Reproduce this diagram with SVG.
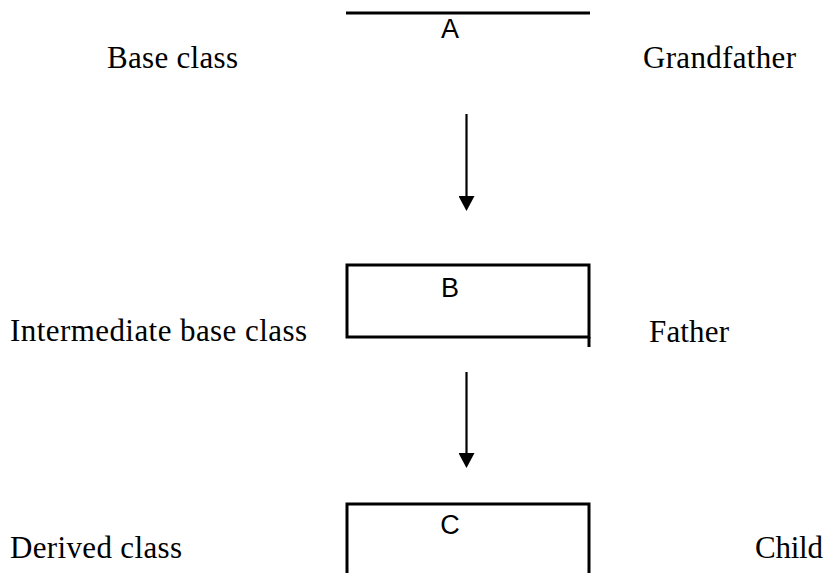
<svg xmlns="http://www.w3.org/2000/svg" width="826" height="573" viewBox="0 0 826 573">
<style>
.lbl{font-family:"Liberation Serif","Times New Roman",serif;font-size:31px;fill:#000}
.cls{font-family:"Liberation Sans",Arial,sans-serif;font-size:27px;fill:#000;text-anchor:middle}
.box{fill:none;stroke:#000;stroke-width:3}
.conn{stroke:#000;stroke-width:2.2;fill:none}
</style>
<defs>
<marker id="ah" markerWidth="15" markerHeight="16" refX="0" refY="8" orient="auto" markerUnits="userSpaceOnUse" viewBox="0 0 15 16">
<path d="M0,0 L15,8 L0,16 Z" fill="#000"/>
</marker>
</defs>
<rect width="826" height="573" fill="#fff"/>
<g id="nodeA">
<line class="box" x1="346" y1="13" x2="590" y2="13" stroke-width="2.4"/>
<text class="cls" x="450" y="38">A</text>
</g>
<g id="nodeB">
<rect class="box" x="347" y="265" width="242" height="72"/>
<line class="box" x1="589" y1="337" x2="589" y2="347"/>
<text class="cls" x="450" y="297">B</text>
</g>
<g id="nodeC">
<path class="box" d="M347,575 L347,504 L589,504 L589,575"/>
<text class="cls" x="450" y="534">C</text>
</g>
<g id="labels">
<text class="lbl" x="107" y="68" textLength="131" lengthAdjust="spacing">Base class</text>
<text class="lbl" x="643" y="68" textLength="153" lengthAdjust="spacing">Grandfather</text>
<text class="lbl" x="10" y="341" textLength="297" lengthAdjust="spacing">Intermediate base class</text>
<text class="lbl" x="649" y="342" textLength="80" lengthAdjust="spacing">Father</text>
<text class="lbl" x="10" y="558" textLength="172" lengthAdjust="spacing">Derived class</text>
<text class="lbl" x="755" y="558" textLength="68" lengthAdjust="spacing">Child</text>
</g>
<g id="connectors">
<line class="conn" x1="466.5" y1="114" x2="466.5" y2="196" marker-end="url(#ah)"/>
<line class="conn" x1="466.5" y1="372" x2="466.5" y2="453" marker-end="url(#ah)"/>
</g>
</svg>
